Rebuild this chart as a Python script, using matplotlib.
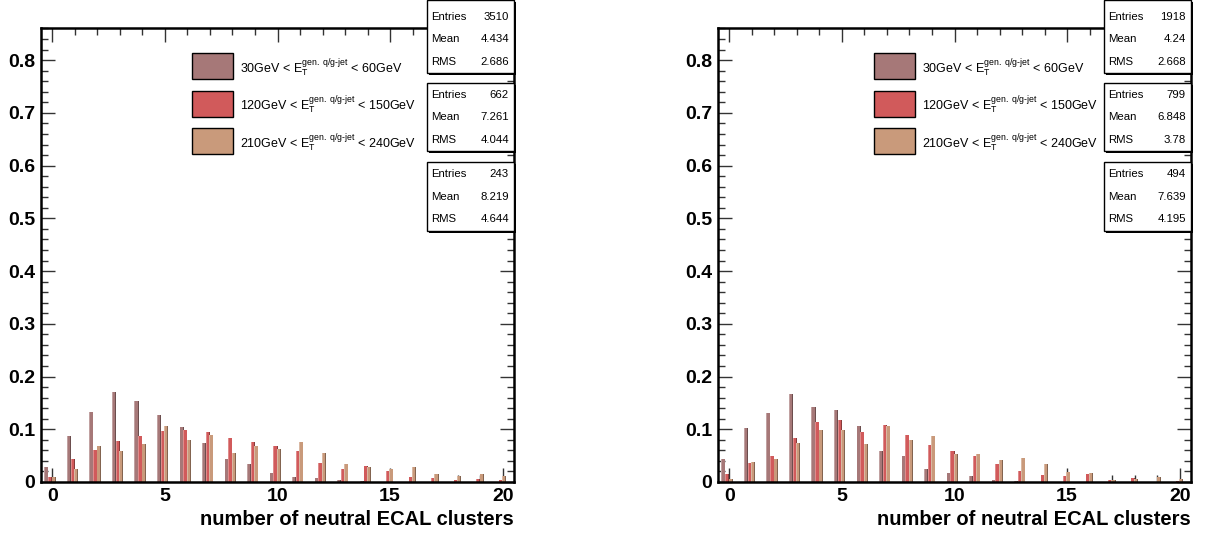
import numpy as np
import matplotlib.pyplot as plt
from matplotlib.patches import Rectangle
from matplotlib.ticker import MultipleLocator
from matplotlib.colors import to_rgb

plt.rcParams['font.family'] = ['Liberation Sans', 'DejaVu Sans']
plt.rcParams['mathtext.fontset'] = 'custom'
plt.rcParams['mathtext.rm'] = 'Liberation Sans'
plt.rcParams['mathtext.it'] = 'Liberation Sans'

# bins 0..20 (number of neutral ECAL clusters), normalised fractions
nclus = np.arange(21)

left_lo = [0.029, 0.087, 0.133, 0.170, 0.153, 0.127, 0.104, 0.074, 0.044, 0.035, 0.018,
           0.010, 0.008, 0.004, 0.0025, 0.0, 0.0, 0.0, 0.0, 0.0, 0.0]
left_mid = [0.009, 0.044, 0.061, 0.078, 0.087, 0.097, 0.099, 0.095, 0.084, 0.076, 0.069,
            0.059, 0.036, 0.025, 0.031, 0.021, 0.010, 0.008, 0.0044, 0.006, 0.0044]
left_hi = [0.009, 0.025, 0.069, 0.059, 0.072, 0.106, 0.080, 0.089, 0.055, 0.069, 0.063,
           0.076, 0.055, 0.035, 0.029, 0.025, 0.029, 0.016, 0.012, 0.016, 0.012]

right_lo = [0.044, 0.103, 0.131, 0.167, 0.142, 0.136, 0.106, 0.059, 0.050, 0.025, 0.018,
            0.012, 0.004, 0.0025, 0.0, 0.0, 0.0, 0.0, 0.0, 0.0, 0.0]
right_mid = [0.016, 0.036, 0.050, 0.084, 0.114, 0.118, 0.095, 0.108, 0.089, 0.070, 0.059,
             0.050, 0.035, 0.021, 0.014, 0.012, 0.016, 0.0044, 0.008, 0.0006, 0.0025]
right_hi = [0.006, 0.038, 0.044, 0.074, 0.099, 0.099, 0.072, 0.106, 0.080, 0.087, 0.053,
            0.053, 0.042, 0.046, 0.035, 0.019, 0.018, 0.0044, 0.006, 0.010, 0.006]

left_stats = [("3510", "4.434", "2.686"), ("662", "7.261", "4.044"), ("243", "8.219", "4.644")]
right_stats = [("1918", "4.24", "2.668"), ("799", "6.848", "3.78"), ("494", "7.639", "4.195")]

legend_labels = [
    r'30GeV < E$_{\mathregular{T}}^{\mathregular{gen.\ q/g\text{-}jet}}$ < 60GeV',
    r'120GeV < E$_{\mathregular{T}}^{\mathregular{gen.\ q/g\text{-}jet}}$ < 150GeV',
    r'210GeV < E$_{\mathregular{T}}^{\mathregular{gen.\ q/g\text{-}jet}}$ < 240GeV',
]
colors = ['#a67878', '#d15a5b', '#c99a7b']
offsets = [0.15, 0.32, 0.47]
bw = 0.18

W, H = 1206, 536
fig = plt.figure(figsize=(W / 100, H / 100), dpi=100)


def shade(c, f):
    r = np.array(to_rgb(c))
    if f > 0:
        return tuple(r + (1 - r) * f)
    return tuple(r * (1 + f))


def panel(x0, series, stats, legend_x):
    ax = fig.add_axes([x0 / W, (H - 482) / H, 473 / W, 453.5 / H])
    ax.set_axisbelow(True)
    for vals, c, off in zip(series, colors, offsets):
        left = nclus - 0.5 + off
        ax.bar(left, vals, width=bw, align='edge', color=c, lw=0)
        ax.bar(left, vals, width=0.035, align='edge', color=shade(c, 0.3), lw=0)
        ax.bar(left + bw - 0.035, vals, width=0.035, align='edge', color=shade(c, -0.35), lw=0)
    ax.set_xlim(-0.5, 20.5)
    ax.set_ylim(0, 0.86)
    ax.xaxis.set_major_locator(MultipleLocator(5))
    ax.xaxis.set_minor_locator(MultipleLocator(1))
    ax.yaxis.set_major_locator(MultipleLocator(0.1))
    ax.yaxis.set_minor_locator(MultipleLocator(0.02))
    ax.tick_params(which='both', direction='in', top=True, right=True, width=1, color='#333333')
    ax.tick_params(which='major', length=10)
    ax.tick_params(which='minor', length=5)
    ax.tick_params(axis='both', labelsize=14, pad=4)
    for lab in ax.get_xticklabels() + ax.get_yticklabels():
        lab.set_fontweight('bold')
    ax.yaxis.set_major_formatter(lambda v, p: '0' if abs(v) < 1e-9 else f'{v:.1f}')
    for s in ax.spines.values():
        s.set_linewidth(1.8)
    ax.set_xlabel('number of neutral ECAL clusters', fontsize=14.5, fontweight='bold',
                  loc='right', labelpad=4)

    # stat boxes: (top, bottom, first row) in pixels from the top
    boxes = [(0, 73, 17), (83, 151, 95), (162, 231, 174)]
    for (ent, mean, rms), (t, b, r0) in zip(stats, boxes):
        bx0, bx1 = x0 + 386, x0 + 473
        fig.patches.append(Rectangle((bx0 / W + 2 / W, 1 - (b + 2) / H), (bx1 - bx0) / W,
                                     (b - t) / H, transform=fig.transFigure,
                                     facecolor='black', edgecolor='none', zorder=5))
        fig.patches.append(Rectangle((bx0 / W, 1 - b / H), (bx1 - bx0) / W, (b - t) / H,
                                     transform=fig.transFigure, facecolor='white',
                                     edgecolor='black', lw=1, zorder=6))
        for i, (k, v) in enumerate([('Entries', ent), ('Mean', mean), ('RMS', rms)]):
            yy = 1 - (r0 + 22.5 * i) / H
            fig.text((bx0 + 4) / W, yy, k, fontsize=8.2, va='center', ha='left', zorder=7)
            fig.text((bx1 - 5) / W, yy, v, fontsize=8.2, va='center', ha='right', zorder=7)

    # legend
    for i, (lab, c) in enumerate(zip(legend_labels, colors)):
        ty = 53 + 37.5 * i
        fig.patches.append(Rectangle((legend_x / W, 1 - (ty + 26) / H), 41 / W, 26 / H,
                                     transform=fig.transFigure, facecolor=c,
                                     edgecolor='black', lw=1, zorder=6))
        fig.text((legend_x + 48) / W, 1 - (ty + 15) / H, lab, fontsize=9,
                 va='center', ha='left', zorder=7)
    return ax


panel(41, [left_lo, left_mid, left_hi], left_stats, 192)
panel(718, [right_lo, right_mid, right_hi], right_stats, 874)

fig.savefig('out.png', dpi=100)
